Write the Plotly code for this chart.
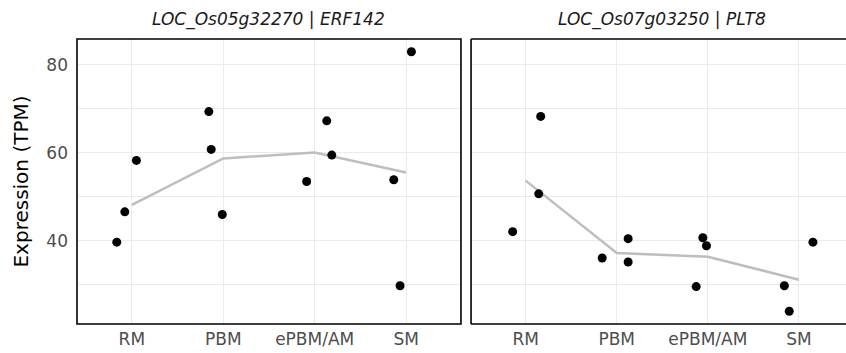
import plotly.graph_objects as go

stages = ["RM", "PBM", "ePBM/AM", "SM"]
titles = ["LOC_Os05g32270 | ERF142", "LOC_Os07g03250 | PLT8"]

# replicate values per stage (3 each), in stage order
erf142_values = [39.7, 46.6, 58.3, 69.4, 60.8, 46.0, 53.5, 67.3, 59.5, 53.9, 29.8, 83.0]
erf142_jitter = [-0.165, -0.077, 0.05, -0.158, -0.132, -0.011, -0.088, 0.132, 0.187, -0.135, -0.066, 0.058]
plt8_values = [42.1, 50.7, 68.3, 36.1, 40.5, 35.2, 29.6, 40.7, 38.9, 29.8, 24.0, 39.7]
plt8_jitter = [-0.143, 0.143, 0.165, -0.16, 0.125, 0.125, -0.128, -0.055, -0.015, -0.16, -0.106, 0.154]

stage_idx = [0, 0, 0, 1, 1, 1, 2, 2, 2, 3, 3, 3]

fig = go.Figure()
FONT = "DejaVu Sans"

for k, (vals, jit) in enumerate([(erf142_values, erf142_jitter), (plt8_values, plt8_jitter)]):
    xa = "x" if k == 0 else "x2"
    ya = "y" if k == 0 else "y2"
    means = []
    for s in range(len(stages)):
        v = [vals[i] for i in range(len(vals)) if stage_idx[i] == s]
        means.append(sum(v) / len(v))
    fig.add_trace(go.Scatter(x=list(range(len(stages))), y=means, mode="lines",
                             line=dict(color="#bebebe", width=2.5),
                             xaxis=xa, yaxis=ya, showlegend=False, hoverinfo="skip"))
    fig.add_trace(go.Scatter(x=[stage_idx[i] + jit[i] for i in range(len(vals))], y=vals,
                             mode="markers", marker=dict(color="black", size=9),
                             xaxis=xa, yaxis=ya, showlegend=False))

grid = "#ebebeb"
TICK = 17
common_x = dict(tickmode="array", tickvals=list(range(len(stages))), ticktext=stages,
                showgrid=True, gridcolor=grid, gridwidth=1.2, zeroline=False, showline=False,
                tickfont=dict(family=FONT, size=TICK, color="#4d4d4d"),
                ticks="", ticklabelstandoff=3)
common_y = dict(range=[21.1, 85.9], tickmode="linear", tick0=0, dtick=20,
                showgrid=True, gridcolor=grid, gridwidth=1.2, zeroline=False, showline=False,
                minor=dict(dtick=10, tick0=0, showgrid=True, gridcolor=grid, gridwidth=0.6),
                tickfont=dict(family=FONT, size=TICK, color="#4d4d4d"), ticks="")

D1 = [0, 0.4993]
D2 = [0.5124, 1.0]

border = dict(color="black", width=1.6)
shapes = [
    dict(type="rect", xref="x domain", yref="y domain", x0=0, x1=1, y0=0, y1=1, line=border),
    dict(type="line", xref="x2 domain", yref="y2 domain", x0=0, x1=0, y0=0, y1=1, line=border),
    dict(type="line", xref="x2 domain", yref="y2 domain", x0=0, x1=1.01, y0=0, y1=0, line=border),
    dict(type="line", xref="x2 domain", yref="y2 domain", x0=0, x1=1.01, y0=1, y1=1, line=border),
]

fig.update_layout(
    width=846, height=353,
    margin=dict(l=77, r=0, t=39, b=29, pad=0),
    paper_bgcolor="white", plot_bgcolor="white",
    xaxis=dict(domain=D1, range=[-0.6, 3.6], **common_x),
    yaxis=dict(ticklabelstandoff=8, showticklabels=True,
               title=dict(text="Expression (TPM)", font=dict(family=FONT, size=20, color="black"),
                          standoff=12), **common_y),
    xaxis2=dict(domain=D2, range=[-0.6, 3.517], anchor="y2", **common_x),
    yaxis2=dict(anchor="x2", matches="y", showticklabels=False, **common_y),
    shapes=shapes,
    annotations=[
        dict(text="<i>" + titles[0] + "</i>", xref="x domain", yref="y domain", x=0.5, y=1,
             yanchor="bottom", yshift=7, showarrow=False,
             font=dict(family=FONT, size=17, color="#1a1a1a")),
        dict(text="<i>" + titles[1] + "</i>", xref="x2 domain", yref="y2 domain",
             x=0.5 * (4.2 / 4.117), y=1,
             yanchor="bottom", yshift=7, showarrow=False,
             font=dict(family=FONT, size=17, color="#1a1a1a")),
    ],
)

fig.write_html("out.html", config={"displayModeBar": False})
